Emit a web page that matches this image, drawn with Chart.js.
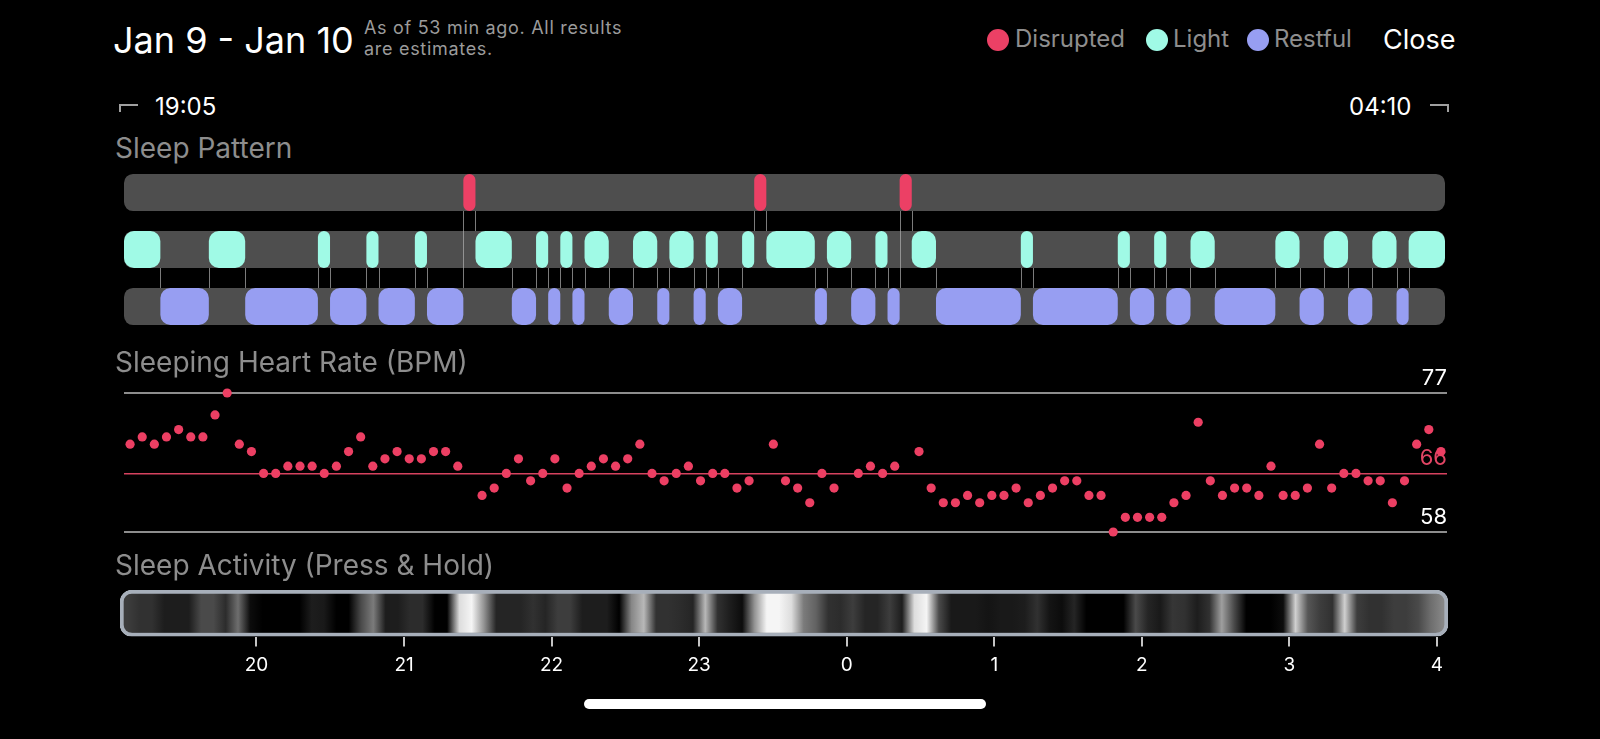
<!DOCTYPE html>
<html>
<head>
<meta charset="utf-8">
<script src="https://cdn.jsdelivr.net/npm/chart.js@4.4.1/dist/chart.umd.min.js"></script>
<style>
  body { margin: 0; background: #000; width: 1600px; height: 739px; overflow: hidden; position: relative; font-family: Inter, "Noto Sans", sans-serif; }
  .t { position: absolute; white-space: nowrap; line-height: 1; }
  .sec { font-size: 28px; color: #8d8d8d; left: 115px; }
  .dot { position: absolute; width: 22px; height: 22px; border-radius: 50%; top: 29px; }
  .leg { font-size: 24px; color: #8e8e8e; top: 27px; }
  canvas { position: absolute; left: 0; }
  .bracket { position: absolute; width: 17px; height: 6px; border-top: 2px solid #a0a0a0; top: 104px; }
</style>
</head>
<body>
<div class="t" style="left:113px;top:22px;font-size:36px;color:#fff">Jan 9 - Jan 10</div>
<div class="t" style="left:364px;top:17px;font-size:18px;line-height:21px;letter-spacing:0.7px;color:#9b9b9b">As of 53 min ago. All results<br>are estimates.</div>

<div class="dot" style="left:987px;background:#ec4065"></div>
<div class="t leg" style="left:1015px">Disrupted</div>
<div class="dot" style="left:1146px;background:#a0fae6"></div>
<div class="t leg" style="left:1173px">Light</div>
<div class="dot" style="left:1247px;background:#979ef2"></div>
<div class="t leg" style="left:1274px">Restful</div>
<div class="t" style="left:1383px;top:26px;font-size:27px;color:#fff">Close</div>

<div class="bracket" style="left:119px;border-left:2px solid #a0a0a0"></div>
<div class="t" style="left:155px;top:95px;font-size:24px;color:#fff">19:05</div>
<div class="t" style="left:1349px;top:95px;font-size:24px;color:#fff">04:10</div>
<div class="bracket" style="left:1430px;border-right:2px solid #a0a0a0"></div>

<div class="t sec" style="top:134px">Sleep Pattern</div>
<canvas id="pattern" width="1600" height="200" style="top:150px"></canvas>

<div class="t sec" style="top:348px">Sleeping Heart Rate (BPM)</div>
<canvas id="heart" width="1600" height="200" style="top:350px"></canvas>

<div class="t sec" style="top:551px">Sleep Activity (Press &amp; Hold)</div>
<canvas id="activity" width="1600" height="120" style="top:580px"></canvas>

<div style="position:absolute;left:584px;top:699px;width:402px;height:10px;border-radius:5px;background:#fff"></div>

<script>
// night runs 19:05 -> 04:10, one value per 5 minute epoch
const startHour = 19 + 5 / 60;
const endHour = 28 + 10 / 60;
const hourTicks = ['20', '21', '22', '23', '0', '1', '2', '3', '4'];

const stageNames = ['Disrupted', 'Light', 'Restful'];
const stageColors = ['#ec4065', '#a0fae6', '#979ef2'];
// D = Disrupted, L = Light, R = Restful; lengths in epochs
const stageSeq = ['L','R','L','R','L','R','L','R','L','R','D','L','R','L','R','L','R','L','R','L','R','L','R','L','R','L','D',
                  'L','R','L','R','L','R','D','L','R','L','R','L','R','L','R','L','R','L','R','L','R','L','R','L'];
const stageLen = [3,4,3,6,1,3,1,3,1,3,1,3,2,1,1,1,1,2,2,2,1,2,1,1,2,1,1,
                  4,1,2,2,1,1,1,2,7,1,7,1,2,1,2,2,5,2,2,2,2,2,1,3];

const heartRate = [70,71,70,71,72,71,71,74,77,70,69,66,66,67,67,67,66,67,69,71,67,68,69,68,68,69,69,67,null,
                   63,64,66,68,65,66,68,64,66,67,68,67,68,70,66,65,66,67,65,66,66,64,65,null,
                   70,65,64,62,66,64,null,66,67,66,67,null,69,64,62,62,63,62,63,
                   63,64,62,63,64,65,65,63,63,58,60,60,60,60,62,63,73,65,63,64,64,63,67,63,63,64,70,64,66,66,65,65,62,65,70,72,69];
const hrLines = [58, 66, 77];
const hrMean = 66;

// movement intensity per epoch, 0 = still, 1 = strongest
const activity = [0.25,0.2,0.2,0.12,0.12,0.12,0.3,0.3,0.18,0.45,0.05,0,0,0,0,0.12,0.1,0,0,0.3,0.5,0.12,0.12,0.18,0.18,0,0,
                  0.9,1,0.6,0.15,0.15,0.15,0.2,0.15,0.25,0.25,0.12,0.12,0.12,0,0.55,0.75,0.2,0.2,0.18,0.15,0.75,0.2,0.12,0.05,0.6,1,1,
                  0.9,0.5,0.4,0.2,0.18,0.25,0.15,0.15,0.25,0.12,0.9,1,0.3,0.1,0.1,0.1,0.08,0.1,0.1,0.12,0.2,0.08,0.05,0.15,0,0,0,0,
                  0.3,0.15,0.1,0.22,0.2,0.12,0.2,0.65,0.3,0,0,0,0.05,0.85,0.35,0.25,0.2,0.85,0.25,0.2,0.2,0.25,0.25,0.3,0.45,0.55];
const activityStart = 19 + 4.5 / 60;
const activityEnd = activityStart + 9;

const font = 'Inter, "Noto Sans", sans-serif';
const epochHour = i => startHour + i / 12;

// turn run lengths into [from, to] epochs
const runs = [];
let epoch = 0;
stageSeq.forEach((s, k) => {
    runs.push({ stage: 'DLR'.indexOf(s), from: epoch, to: epoch + stageLen[k] });
    epoch += stageLen[k];
});

// thin lines joining one stage to the next
const connectors = {
    id: 'connectors',
    afterDatasetsDraw(chart) {
        const { ctx, scales: { x, y } } = chart;
        const half = chart.getDatasetMeta(0).data[0].height / 2;
        ctx.save();
        ctx.strokeStyle = 'rgba(175,175,175,0.7)';
        ctx.lineWidth = 1;
        for (let k = 1; k < runs.length; k++) {
            const ya = y.getPixelForValue(runs[k - 1].stage);
            const yb = y.getPixelForValue(runs[k].stage);
            const px = Math.round(x.getPixelForValue(epochHour(runs[k].from))) + 0.5;
            ctx.beginPath();
            ctx.moveTo(px, Math.min(ya, yb) + half);
            ctx.lineTo(px, Math.max(ya, yb) - half);
            ctx.stroke();
        }
        ctx.restore();
    }
};

new Chart(document.getElementById('pattern'), {
    type: 'bar',
    data: {
        labels: stageNames,
        datasets: [
            {
                data: stageNames.map(n => ({ x: [startHour, endHour], y: n })),
                backgroundColor: '#4e4e4e',
                borderRadius: 9,
                order: 2
            },
            ...stageNames.map((n, s) => ({
                data: runs.filter(r => r.stage === s).map(r => ({ x: [epochHour(r.from), epochHour(r.to)], y: n })),
                backgroundColor: stageColors[s],
                borderRadius: 10,
                order: 1
            }))
        ]
    },
    options: {
        indexAxis: 'y',
        responsive: false,
        animation: false,
        layout: { padding: { left: 124, right: 155, top: 14, bottom: 15 } },
        datasets: { bar: { grouped: false, categoryPercentage: 1, barPercentage: 0.65, borderSkipped: false } },
        plugins: { legend: { display: false }, tooltip: { enabled: false } },
        scales: {
            x: { type: 'linear', min: startHour, max: endHour, display: false },
            y: { display: false }
        }
    },
    plugins: [connectors]
});

const hrPoints = heartRate
    .map((v, i) => v === null ? null : { x: epochHour(i + 0.5), y: v })
    .filter(p => p);

new Chart(document.getElementById('heart'), {
    type: 'scatter',
    data: {
        datasets: [{
            data: hrPoints,
            backgroundColor: '#ec3f63',
            borderWidth: 0,
            pointRadius: 4.6,
            clip: false
        }]
    },
    options: {
        responsive: false,
        animation: false,
        layout: { padding: { left: 124, right: 153, top: 43, bottom: 18 } },
        plugins: { legend: { display: false }, tooltip: { enabled: false } },
        scales: {
            x: { type: 'linear', min: startHour, max: endHour, display: false },
            y: {
                position: 'right',
                min: hrLines[0],
                max: hrLines[hrLines.length - 1],
                afterBuildTicks: scale => { scale.ticks = hrLines.map(v => ({ value: v })); },
                border: { display: false },
                grid: {
                    drawTicks: false,
                    color: c => c.tick.value === hrMean ? '#d6425f' : '#8d8d8d',
                    lineWidth: c => c.tick.value === hrMean ? 1.5 : 2
                },
                ticks: {
                    mirror: true,
                    padding: 0,
                    labelOffset: -15,
                    color: c => c.tick.value === hrMean ? '#e24564' : '#fff',
                    font: { family: font, size: 22 }
                }
            }
        }
    }
});

// grey level band, one colour stop per epoch placed through the x scale
function activityFill(context) {
    const chart = context.chart;
    const area = chart.chartArea;
    if (!area) return '#000';
    const x = chart.scales.x;
    const g = chart.ctx.createLinearGradient(area.left, 0, area.right, 0);
    const w = area.right - area.left;
    activity.forEach((v, i) => {
        const c = Math.round(v * 245);
        const pos = (x.getPixelForValue(epochHour(i + 0.5)) - area.left) / w;
        g.addColorStop(Math.min(1, Math.max(0, pos)), `rgb(${c},${c},${c})`);
    });
    return g;
}

new Chart(document.getElementById('activity'), {
    type: 'bar',
    data: {
        labels: ['activity'],
        datasets: [{
            data: [[activityStart, activityEnd]],
            backgroundColor: activityFill,
            borderColor: '#a7afba',
            borderWidth: 4,
            borderRadius: 12,
            borderSkipped: false,
            categoryPercentage: 1,
            barPercentage: 1
        }]
    },
    options: {
        indexAxis: 'y',
        responsive: false,
        animation: false,
        layout: { padding: { left: 120, right: 152, top: 10, bottom: 17 } },
        plugins: { legend: { display: false }, tooltip: { enabled: false } },
        scales: {
            x: {
                type: 'linear',
                min: activityStart,
                max: activityEnd,
                afterBuildTicks: scale => { scale.ticks = hourTicks.map((l, i) => ({ value: 20 + i })); },
                border: { display: false },
                grid: { drawOnChartArea: false, color: '#c4c4c4', lineWidth: 2, tickLength: 10 },
                ticks: {
                    autoSkip: false,
                    maxRotation: 0,
                    padding: 7,
                    color: '#fff',
                    font: { family: font, size: 19 },
                    callback: (v, i) => hourTicks[i]
                }
            },
            y: { display: false }
        }
    }
});
</script>
</body>
</html>
